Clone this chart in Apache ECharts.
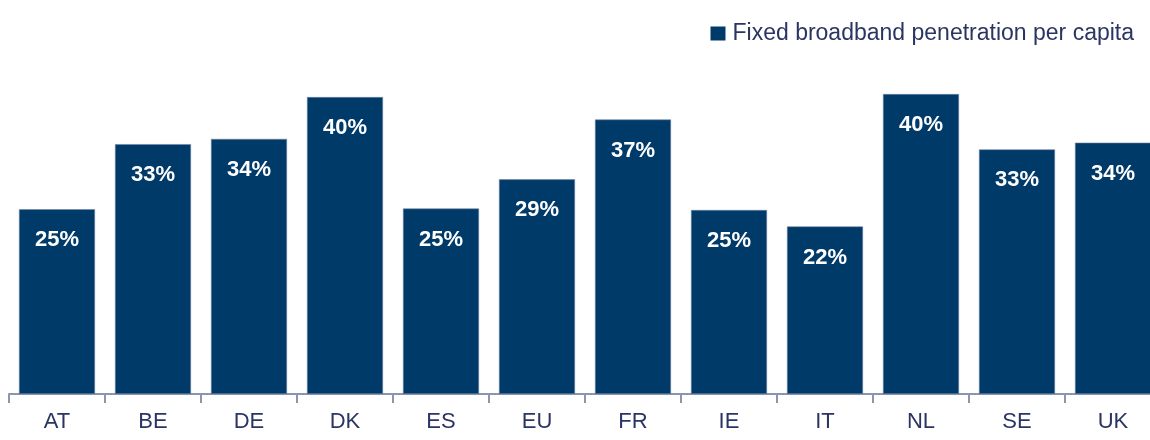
<!DOCTYPE html>
<html>
<head>
<meta charset="utf-8">
<script src="https://cdn.jsdelivr.net/npm/echarts@6/dist/echarts.min.js"></script>
<style>
    html, body { margin: 0; padding: 0; background: #fff; }
    #chartId { width: 1150px; height: 440px; }
</style>
</head>
<body>
<div id="chartId"></div>
<script>
// 数据
var countryArray = ['AT', 'BE', 'DE', 'DK', 'ES', 'EU', 'FR', 'IE', 'IT', 'NL', 'SE', 'UK'];
var penetrationArray = [24.7, 33.4, 34.1, 39.7, 24.8, 28.7, 36.7, 24.6, 22.4, 40.1, 32.7, 33.6];
var seriesName = 'Fixed broadband penetration per capita';

var textColor = '#2b3563';
var barColor = '#003a69';
var axisColor = '#8c96aa';
var labelFont = '"Liberation Sans", Arial, sans-serif';

/**
 * 柱状图绘制
 */
function canvasBar(showId, xArray, yArray) {
    var chart = echarts.init(document.getElementById(showId));
    var option = {
        animation: false,
        legend: {
            data: [seriesName],
            right: 11,
            top: 17,
            icon: 'rect',
            itemWidth: 15,
            itemHeight: 14,
            itemGap: 8,
            itemStyle: {
                borderWidth: 0
            },
            textStyle: {
                color: textColor,
                fontFamily: labelFont,
                fontSize: 23,
                padding: [0, 0, 0, 2]
            }
        },
        grid: {
            top: 20,
            left: 9,
            width: 1152,
            bottom: 46,
            outerBoundsMode: 'none',
            containLabel: false
        },
        xAxis: {
            type: 'category',
            data: xArray,
            axisLine: {
                lineStyle: { color: axisColor, width: 2 }
            },
            axisTick: {
                show: true,
                length: 9,
                lineStyle: { color: axisColor, width: 2 }
            },
            axisLabel: {
                color: textColor,
                fontFamily: labelFont,
                fontSize: 22,
                margin: 17
            }
        },
        yAxis: {
            type: 'value',
            min: 0,
            max: 50,
            show: false,
            splitLine: { show: false }
        },
        series: [
            {
                name: seriesName,
                type: 'bar',
                barCategoryGap: '20.8%',
                itemStyle: {
                    color: barColor,
                    borderColor: '#6f85a3',
                    borderWidth: 0.6
                },
                label: {
                    show: true,
                    position: 'insideTop',
                    distance: 20,
                    color: '#ffffff',
                    fontFamily: labelFont,
                    fontWeight: 'bold',
                    fontSize: 22,
                    formatter: function (p) {
                        return Math.round(p.value) + '%';
                    }
                },
                data: yArray
            }
        ]
    };
    chart.setOption(option);
}

// 初始绘制
canvasBar('chartId', countryArray, penetrationArray);
</script>
</body>
</html>
